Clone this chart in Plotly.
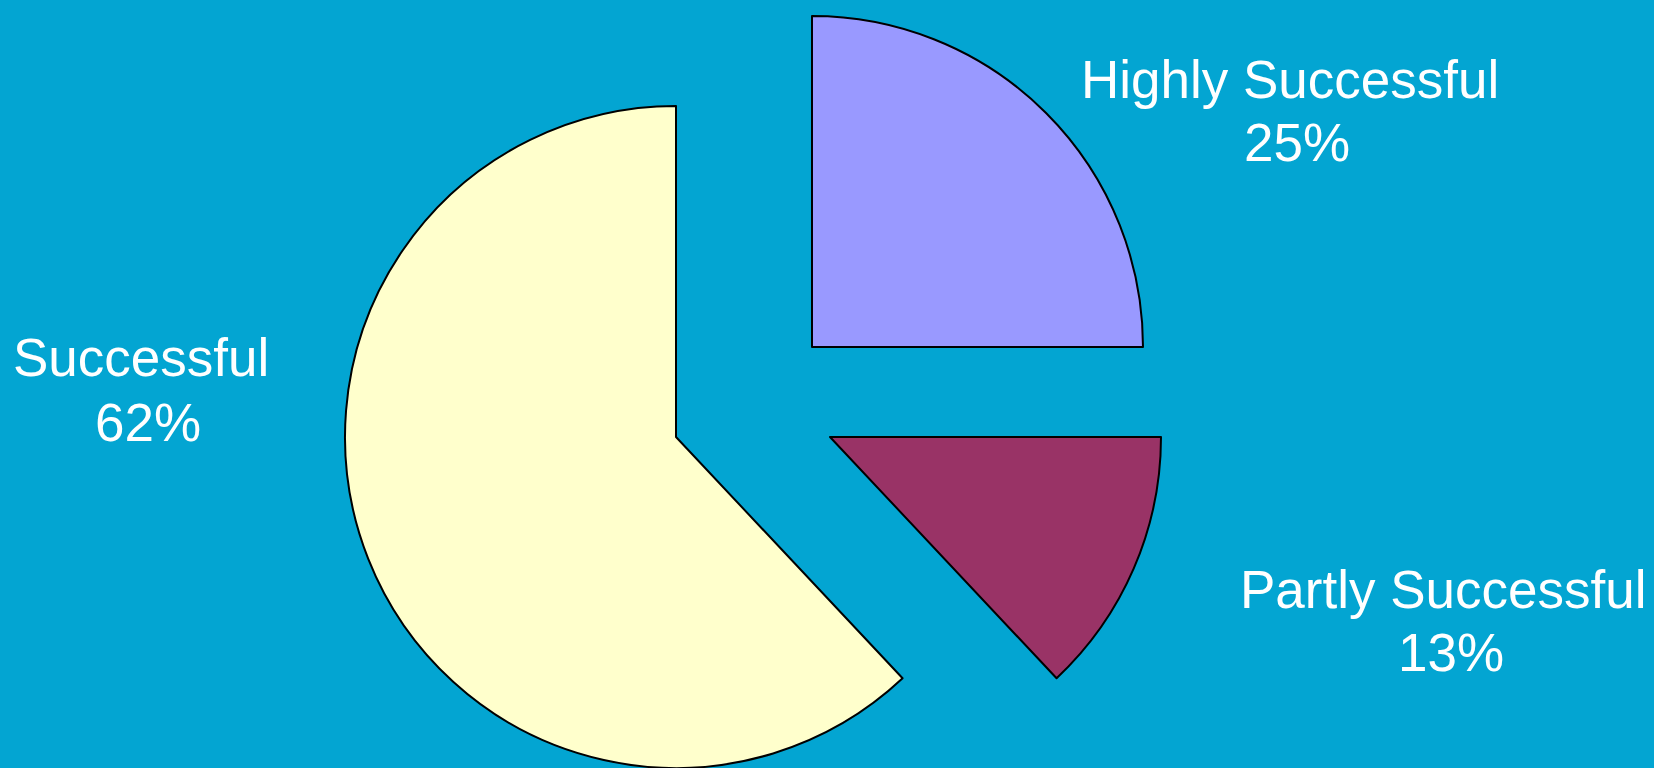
import plotly.graph_objects as go

# ---- data ----
labels = ["Highly Successful", "Partly Successful", "Successful"]
values = [25, 13, 62]
colors = ["#9999FF", "#993366", "#FFFFCC"]

# ---- layout constants (pixels in a 1654x768 canvas) ----
W, H = 1654, 768
BG = "#03A5D2"
R = 331
# centres of each exploded slice
centres = {"Highly Successful": (812, 347), "Partly Successful": (830, 437), "Successful": (676, 437)}
# label positions: (name x, name y, pct x, pct y) in px (y = vertical centre of the line)
label_pos = {
    "Highly Successful": (1290, 79, 1297, 142),
    "Partly Successful": (1443, 589, 1451, 652),
    "Successful": (141, 357, 148, 422),
}

total = sum(values)
fig = go.Figure()
for k, lab in enumerate(labels):
    cx, cy = centres[lab]
    x0 = max(0, (cx - R) / W); x1 = min(1, (cx + R) / W)
    y0 = max(0, 1 - (cy + R) / H); y1 = min(1, 1 - (cy - R) / H)
    fig.add_trace(go.Pie(
        labels=labels, values=values, sort=False, direction="clockwise", rotation=0,
        marker=dict(colors=[c if i == k else "rgba(0,0,0,0)" for i, c in enumerate(colors)],
                    line=dict(color="black", width=[2 if i == k else 0 for i in range(len(labels))])),
        textinfo="none", hoverinfo="label+percent", showlegend=False,
        domain=dict(x=[x0, x1], y=[y0, y1]),
    ))

annotations = []
font = dict(family="Liberation Sans, Arial, sans-serif", size=53, color="white")
for lab, v in zip(labels, values):
    nx, ny, px_, py = label_pos[lab]
    pct = f"{round(100 * v / total)}%"
    annotations.append(dict(text=lab, x=nx / W, y=1 - ny / H, xref="paper", yref="paper",
                            xanchor="center", yanchor="middle", showarrow=False, font=font))
    annotations.append(dict(text=pct, x=px_ / W, y=1 - py / H, xref="paper", yref="paper",
                            xanchor="center", yanchor="middle", showarrow=False, font=font))

fig.update_layout(
    width=W, height=H, margin=dict(l=0, r=0, t=0, b=0),
    paper_bgcolor=BG, plot_bgcolor=BG, annotations=annotations,
)
fig.write_html("out.html", config={"displayModeBar": False},
               post_script="document.body.style.margin='0';document.body.style.overflow='hidden';")
